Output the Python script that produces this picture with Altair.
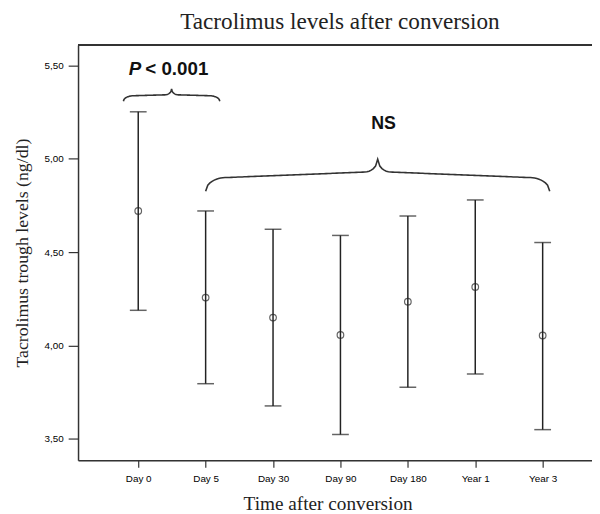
import altair as alt
import pandas as pd
import math

# ---------------- data ----------------
categories = ["Day 0", "Day 5", "Day 30", "Day 90", "Day 180", "Year 1", "Year 3"]
means = [4.720, 4.256, 4.149, 4.056, 4.234, 4.313, 4.053]
upper = [5.251, 4.720, 4.622, 4.589, 4.693, 4.779, 4.551]
lower = [4.188, 3.795, 3.676, 3.523, 3.776, 3.847, 3.549]
y_ticks = [3.5, 4.0, 4.5, 5.0, 5.5]

# annotation anchors (data units: x = category index, y = ng/dl)
brace_x0 = [-0.22, 1.0]
brace_x1 = [1.21, 6.105]
brace_y_end = [5.307, 4.825]
brace_y_tip = [5.374, 4.997]
brace_hook = [0.22, 0.12]
brace_tipw = [0.14, 0.08]
brace_mid = [(0.45, 0.52), (0.43, 0.60)]
ann_text = ["< 0.001", "NS"]
ann_x = [0.5, 3.64]
ann_y = [5.479, 5.188]

# ---------------- tables ----------------
idx = list(range(len(categories)))
df = pd.DataFrame({"x": idx, "cat": categories, "mean": means, "hi": upper, "lo": lower})
caps = pd.DataFrame({"x": idx + idx, "y": upper + lower})


def brace_rows(bid, x0, x1, ye, yt, a, tw, m):
    m1, m2 = m
    b = 1 - tw
    n = 80
    rows = []
    xm = (x0 + x1) / 2

    def h(u):
        if u < a:
            s = u / a
            return m1 * math.sqrt(max(0.0, 1 - (1 - s) ** 2))
        if u < b:
            return m1 + (m2 - m1) * (u - a) / (b - a)
        s = (u - b) / (1 - b)
        return m2 + (1 - m2) * (1 - math.sqrt(max(0.0, 1 - s * s)))

    order = 0
    for i in range(n + 1):
        u = i / n
        rows.append({"id": bid, "o": order, "x": x0 + (xm - x0) * u, "y": ye + (yt - ye) * h(u)})
        order += 1
    for i in range(n, -1, -1):
        u = i / n
        rows.append({"id": bid, "o": order, "x": x1 - (x1 - xm) * u, "y": ye + (yt - ye) * h(u)})
        order += 1
    return rows


brace_data = []
for k in range(len(brace_x0)):
    brace_data += brace_rows(k, brace_x0[k], brace_x1[k], brace_y_end[k], brace_y_tip[k],
                             brace_hook[k], brace_tipw[k], brace_mid[k])
braces = pd.DataFrame(brace_data)
ann = pd.DataFrame({"x": ann_x, "y": ann_y, "t": ann_text})

# ---------------- scales / axes ----------------
cat_js = "[" + ",".join("'" + c + "'" for c in categories) + "]"
XDOM = [-0.893, 6.732]
YDOM = [3.385, 5.609]


def X(field):
    return alt.X(field, type="quantitative",
                 scale=alt.Scale(domain=XDOM, nice=False, zero=False),
                 axis=alt.Axis(values=idx, labelExpr=cat_js + "[datum.value]",
                               title="Time after conversion", grid=False,
                               tickSize=7, labelPadding=7, titlePadding=11,
                               titleX=253, labelFontSize=10, labelFont="Liberation Sans",
                               titleFont="Liberation Serif", titleFontSize=19.5,
                               titleFontWeight="normal", titleColor="#222",
                               labelColor="#000", domainColor="#333", tickColor="#333",
                               domainWidth=1.5, tickWidth=1.2))


def Y(field):
    return alt.Y(field, type="quantitative",
                 scale=alt.Scale(domain=YDOM, nice=False, zero=False),
                 axis=alt.Axis(values=y_ticks,
                               labelExpr="replace(format(datum.value, '.2f'), '.', ',')",
                               title="Tacrolimus trough levels (ng/dl)", grid=False,
                               tickSize=10, labelPadding=5, titlePadding=13,
                               labelFontSize=10, labelFont="Liberation Sans",
                               titleFont="Liberation Serif", titleFontSize=18,
                               titleFontWeight="normal", titleColor="#222",
                               labelColor="#000", domainColor="#333", tickColor="#333",
                               domainWidth=1.5, tickWidth=1.2))


W, H = 521, 421

frame = alt.Chart(df).mark_rule(color="#333", strokeWidth=1.5).encode(
    x=alt.value(0), x2=alt.value(W), y=alt.value(0))

whisk = alt.Chart(df).mark_rule(color="#222", strokeWidth=1.5).encode(
    x=X("x"), y=Y("lo"), y2="hi")

cap = alt.Chart(caps).mark_tick(orient="horizontal", size=17, thickness=1.5, color="#222").encode(
    x=X("x"), y=Y("y"))

pts = alt.Chart(df).mark_point(shape="circle", filled=False, size=45, color="#222",
                               strokeWidth=1.2).encode(x=X("x"), y=Y("mean"))

brace = alt.Chart(braces).mark_line(color="#333", strokeWidth=1.6).encode(
    x=X("x"), y=Y("y"), detail="id:N", order="o:Q")

p_lab = alt.Chart(ann.iloc[[0]]).mark_text(text="P", font="Liberation Sans", fontSize=19,
                                          fontWeight="bold", fontStyle="italic", align="right",
                                          dx=-31, color="#111").encode(x=X("x"), y=Y("y"))
p_val = alt.Chart(ann.iloc[[0]]).mark_text(font="Liberation Sans", fontSize=19,
                                          fontWeight="bold", align="left", dx=-27,
                                          color="#111").encode(x=X("x"), y=Y("y"), text="t:N")
ns_lab = alt.Chart(ann.iloc[[1]]).mark_text(font="Liberation Sans", fontSize=18,
                                           fontWeight="bold", align="center",
                                           color="#111").encode(x=X("x"), y=Y("y"), text="t:N")

chart = alt.layer(frame, whisk, cap, pts, brace, p_lab, p_val, ns_lab).properties(
    width=W, height=H,
    title=alt.TitleParams("Tacrolimus levels after conversion", font="Liberation Serif",
                          fontSize=23.5, fontWeight="normal", color="#222",
                          anchor="middle", dx=5, dy=19, offset=6, baseline="bottom"),
    autosize=alt.AutoSizeParams(type="none"),
    padding={"left": 71, "top": 34, "right": 0, "bottom": 50},
).configure_view(fill="#e6e6e6", stroke=None).configure(background="white")

chart.save("out.html", embed_options={"renderer": "svg", "actions": False})
